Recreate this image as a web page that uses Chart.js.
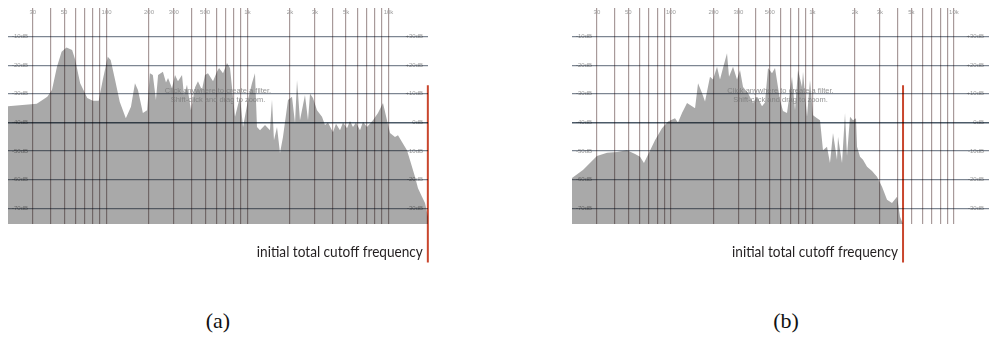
<!DOCTYPE html>
<html>
<head>
<meta charset="utf-8">
<script src="https://cdn.jsdelivr.net/npm/chart.js@4.4.1/dist/chart.umd.min.js"></script>
<style>
  html, body { margin: 0; padding: 0; background: #fff; overflow: hidden; }
  #wrap { position: relative; width: 989px; height: 341px; }
  canvas { position: absolute; top: 0; }
  #chart-a { left: 0; }
  #chart-b { left: 560px; }
  .caption {
    position: absolute; top: 308px; width: 60px; text-align: center;
    font: 22px 'Liberation Serif', 'DejaVu Serif', serif; color: #111;
  }
</style>
</head>
<body>
<div id="wrap">
  <canvas id="chart-a" width="440" height="280"></canvas>
  <canvas id="chart-b" width="429" height="280"></canvas>
  <div class="caption" style="left:188px">(a)</div>
  <div class="caption" style="left:756px">(b)</div>
</div>
<script>
/* ══════════════════════════════════════════════════════════
   Spectrum analyser screenshots — (a) and (b)
══════════════════════════════════════════════════════════ */

/* ── Axes ───────────────────────────────────────────────── */
const GRID_FREQS  = [30, 40, 50, 60, 70, 80, 90, 100, 200, 300, 400, 500, 600, 700, 800, 900,
                     1000, 2000, 3000, 4000, 5000, 6000, 7000, 8000, 9000, 10000];
const FREQ_TICKS  = [30, 50, 100, 200, 300, 500, 1000, 2000, 3000, 5000, 10000];
const FREQ_LABELS = ['30', '50', '100', '200', '300', '500', '1k', '2k', '3k', '5k', '10k'];
const DB_LEFT     = [-10, -20, -30, -40, -50, -60, -70];
const DB_RIGHT    = [30, 20, 10, 0, -10, -20, -30];
const DB_MIN = -75.5, DB_MAX = 0;
const FREQ_MIN = 20;

/* ── Spectrum (a) ───────────────────────────────────────── */
const freqsA = [20, 32, 38, 41, 44.5, 48, 52, 57, 60, 65, 73, 80, 88, 94, 102, 107, 115, 124, 137, 149,
  159, 167, 181, 194, 203, 213, 224, 232, 251, 264, 273, 291, 306, 321, 343, 354, 372, 397, 424, 445,
  475, 499, 524, 569, 607, 628, 670, 715, 751, 815, 884, 929, 1007, 1075, 1129, 1167, 1226, 1330, 1443,
  1491, 1540, 1618, 1699, 1784, 1936, 2067, 2171, 2243, 2354, 2555, 2684, 2774, 2912, 3109, 3373, 3543,
  3721, 4036, 4240, 4527, 4753, 5074, 5328, 5596, 5877, 6275, 6588, 7035, 7758, 8418, 9134, 9750, 10240,
  11110, 11670, 12460, 13510, 14190, 15400, 16180, 17270, 18140, 19050];
const levelsA = [-34.3, -33.5, -31, -28.7, -20.5, -15.3, -13.8, -14.7, -18.2, -26.3, -31.5, -32.4, -32.4,
  -25.2, -17, -18.2, -25.2, -32.8, -38.5, -34.5, -26.3, -28.7, -36.7, -35.7, -22.8, -23.4, -32.2, -23.4,
  -22.3, -26, -24.5, -28, -23.4, -25.6, -23.4, -30.4, -26.8, -35.7, -27.8, -25.6, -28.7, -23.4, -22.8,
  -25.6, -22.3, -21, -22.8, -19.2, -21, -38, -31, -41.6, -32.2, -26.3, -22.8, -41.6, -42.7, -40.9, -42.7,
  -32, -46.2, -41.6, -50.7, -45.1, -32.2, -31, -40.3, -25.2, -39.2, -30.4, -39.2, -30, -31.5, -35.7, -38,
  -40.9, -40, -43.4, -40.5, -42.7, -40, -42, -39.5, -41.6, -40, -42.7, -39.8, -41.6, -39.2, -36.7, -33.2,
  -39.2, -43.7, -45.1, -44.5, -46.8, -49.7, -53.1, -59, -63, -66, -68.2, -73];
const cutoffA = 19000;
const xMaxA = 19050;

/* ── Spectrum (b) ───────────────────────────────────────── */
const freqsB = [20, 23.9, 30, 35.4, 41.6, 48.9, 55.8, 60.5, 64.5, 68.9, 77.2, 86.5, 95.4, 106.9, 112.2,
  119.8, 130, 141, 148.1, 155.5, 165.9, 174.2, 188.9, 198.4, 211.8, 222.3, 233.4, 249.2, 257.4, 274.8,
  293.2, 307.9, 323.3, 350.6, 380.4, 406, 440.4, 462.4, 485.6, 518.2, 544.2, 590.2, 619.7, 661.5, 717.5,
  753.4, 791.1, 844.3, 858.2, 915.9, 961.6, 1010, 1078, 1132, 1188, 1268, 1331, 1398, 1492, 1517, 1619,
  1700, 1756, 1844, 1937, 2033, 2067, 2170, 2278, 2432, 2638, 2861, 3104, 3368, 3652, 3962, 4160, 4368];
const levelsB = [-59.4, -56.6, -51.7, -50.6, -50.3, -49.7, -51, -52, -54.2, -51.3, -46.2, -42, -39.7, -38.5,
  -40, -36.7, -33.2, -34.3, -35, -26.3, -29.7, -32.7, -24, -25, -20.5, -25, -21, -15.8, -24, -20.5, -25,
  -21.7, -27.6, -29.7, -33.2, -31, -34.3, -33, -21, -22.8, -21, -32.2, -36, -36.7, -24, -35.7, -21.7,
  -27.6, -22.3, -38, -25.2, -37.5, -38.5, -39.2, -49.7, -48.5, -54.2, -43.7, -53, -45, -54.2, -36.7,
  -51.7, -38, -39.2, -38.5, -48.5, -52, -53, -55.5, -57, -59, -62.5, -67, -68.2, -66, -73, -75.5];
const cutoffB = 4370;
const xMaxB = 17700;

/* cutoff marker runs from -27 dB down past the plot to the caption */
const CUTOFF_SPAN = [-27, -89];
const CUTOFF_TEXT = 'initial total cutoff frequency';
const HINT_LINES  = ['Click anywhere to create a filter.', 'Shift-click and drag to zoom.'];

const FILL   = '#a9a9a9';
const RED    = '#c9462d';
const LABEL  = '#9c9c9c';
const SMALL  = "'Liberation Sans', Arial, sans-serif";

/* ── Overlay plugin: multiply fill over grid + texts ────── */
const overlay = {
  id: 'overlay',
  beforeDraw(chart) {
    chart.ctx.globalCompositeOperation = 'multiply';
  },
  afterDatasetsDraw(chart) {
    chart.ctx.globalCompositeOperation = 'source-over';
  },
  afterDraw(chart) {
    const { ctx, chartArea: area, scales: { x, y } } = chart;
    ctx.save();
    ctx.globalCompositeOperation = 'source-over';

    ctx.fillStyle = LABEL;
    ctx.font = `6px ${SMALL}`;
    ctx.textAlign = 'center';
    ctx.textBaseline = 'middle';
    FREQ_TICKS.forEach((f, i) => ctx.fillText(FREQ_LABELS[i], x.getPixelForValue(f), area.top + 4));

    ctx.fillStyle = 'rgba(120,120,120,0.8)';
    ctx.font = `7.5px ${SMALL}`;
    const cx = (area.left + area.right) / 2;
    ctx.fillText(HINT_LINES[0], cx, area.top + 83);
    ctx.fillText(HINT_LINES[1], cx, area.top + 92);

    // condensed humanist caption next to the cutoff marker
    const cutoff = chart.data.datasets[1].data[0].x;
    ctx.fillStyle = '#231f20';
    ctx.font = "15px Lato, 'Liberation Sans', sans-serif";
    ctx.textAlign = 'right';
    ctx.textBaseline = 'alphabetic';
    ctx.fillText(CUTOFF_TEXT, x.getPixelForValue(cutoff) - 5, y.getPixelForValue(-87), 166);
    ctx.restore();
  },
};

const zeroWidth  = s => { s.width = 0; };
const zeroHeight = s => { s.height = 0; };
const setTicks = list => s => { s.ticks = list.map(v => ({ value: v })); };

/* ── Chart builder ──────────────────────────────────────── */
function spectrumChart(id, freqs, levels, cutoff, xMax, padding) {
  const ctx = document.getElementById(id);
  return new Chart(ctx, {
    type: 'line',
    data: {
      datasets: [
        {
          data: freqs.map((f, i) => ({ x: f, y: levels[i] })),
          fill: 'start',
          backgroundColor: FILL,
          borderWidth: 0,
          pointRadius: 0,
          tension: 0,
        },
        {
          data: CUTOFF_SPAN.map(v => ({ x: cutoff, y: v })),
          borderColor: RED,
          borderWidth: 2,
          pointRadius: 0,
          fill: false,
          clip: false,
        },
      ],
    },
    options: {
      responsive: false,
      animation: false,
      devicePixelRatio: 1,
      layout: { padding },
      plugins: { legend: { display: false }, tooltip: { enabled: false } },
      scales: {
        x: {
          type: 'logarithmic',
          min: FREQ_MIN,
          max: xMax,
          afterBuildTicks: setTicks(GRID_FREQS),
          afterFit: zeroHeight,
          ticks: { display: false },
          grid: { color: '#a89a9a', lineWidth: 1.2, drawTicks: false },
          border: { display: false },
        },
        y: {
          min: DB_MIN,
          max: DB_MAX,
          afterBuildTicks: setTicks(DB_LEFT),
          afterFit: zeroWidth,
          ticks: { display: false },
          grid: {
            color: c => (c.tick && c.tick.value === -40 ? '#4b5a68' : '#7d8692'),
            lineWidth: c => (c.tick && c.tick.value === -40 ? 1.6 : 1.2),
            drawTicks: false,
          },
          border: { display: false },
        },
        yl: {
          position: 'left',
          min: DB_MIN,
          max: DB_MAX,
          z: 1,
          afterBuildTicks: setTicks(DB_LEFT),
          afterFit: zeroWidth,
          ticks: {
            mirror: true, padding: 4, autoSkip: false, color: LABEL,
            font: { size: 6, family: SMALL },
            callback: v => `${v}dB`,
          },
          grid: { display: false, drawTicks: false },
          border: { display: false },
        },
        yr: {
          position: 'right',
          min: DB_MIN + 40,
          max: DB_MAX + 40,
          z: 1,
          afterBuildTicks: setTicks(DB_RIGHT),
          afterFit: zeroWidth,
          ticks: {
            mirror: true, padding: -5, autoSkip: false, color: LABEL,
            font: { size: 6, family: SMALL },
            callback: v => `${v > 0 ? '+' : ''}${v}dB`,
          },
          grid: { display: false, drawTicks: false },
          border: { display: false },
        },
      },
    },
    plugins: [overlay],
  });
}

spectrumChart('chart-a', freqsA, levelsA, cutoffA, xMaxA, { left: 8, top: 8, right: 12, bottom: 56 });
spectrumChart('chart-b', freqsB, levelsB, cutoffB, xMaxB, { left: 12, top: 8, right: 0, bottom: 56 });
</script>
</body>
</html>
